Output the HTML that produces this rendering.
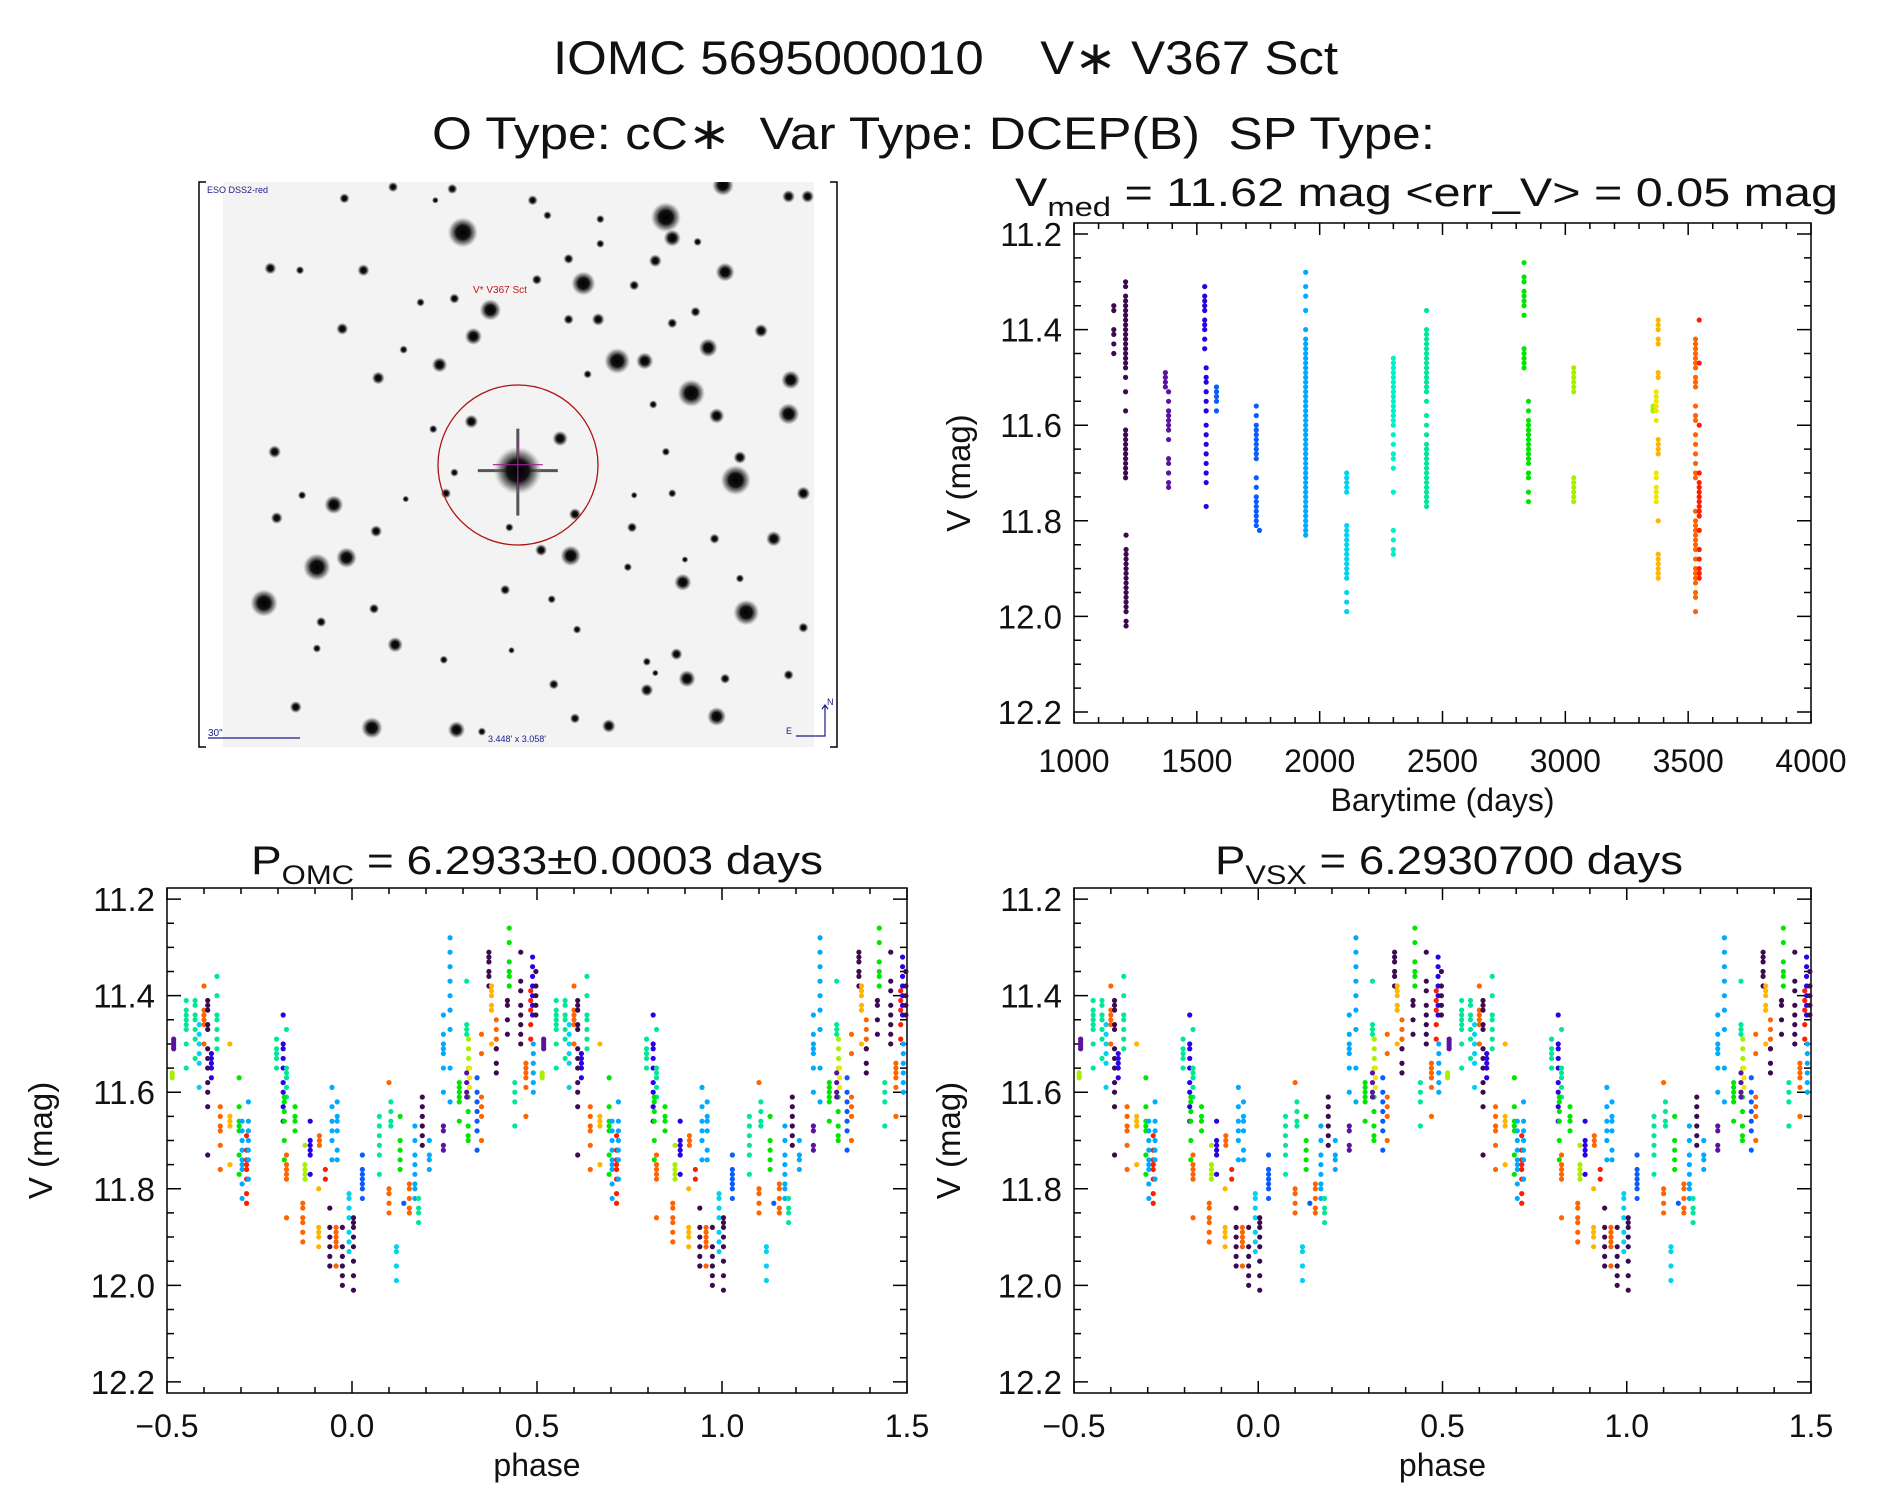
<!DOCTYPE html>
<html><head><meta charset="utf-8">
<style>
html,body{margin:0;padding:0;background:#fff;}
svg{display:block;font-family:"Liberation Sans","DejaVu Sans",sans-serif;}
</style></head>
<body>
<svg id="fig" width="1889" height="1494" viewBox="0 0 1889 1494" xmlns="http://www.w3.org/2000/svg">
<defs>
<radialGradient id="starg"><stop offset="0" stop-color="#000"/><stop offset="0.45" stop-color="#111"/><stop offset="0.75" stop-color="#555" stop-opacity="0.6"/><stop offset="1" stop-color="#999" stop-opacity="0"/></radialGradient>
<clipPath id="imgclip"><rect x="223" y="182" width="591" height="565"/></clipPath>
</defs>
<rect width="1889" height="1494" fill="#fff"/>
<text x="553" y="74" font-size="47" textLength="785" lengthAdjust="spacingAndGlyphs" fill="#111" xml:space="preserve">IOMC 5695000010    V∗ V367 Sct</text>
<text x="432" y="149" font-size="45" textLength="1003" lengthAdjust="spacingAndGlyphs" fill="#111" xml:space="preserve">O Type: cC∗  Var Type: DCEP(B)  SP Type:</text>
<text x="1015" y="206" font-size="40" textLength="823" lengthAdjust="spacingAndGlyphs" fill="#111" xml:space="preserve">V<tspan font-size="27" dy="10">med</tspan><tspan dy="-10"> = 11.62 mag &lt;err_V&gt; = 0.05 mag</tspan></text>
<text x="251" y="874" font-size="40" textLength="572" lengthAdjust="spacingAndGlyphs" fill="#111" xml:space="preserve">P<tspan font-size="27" dy="10">OMC</tspan><tspan dy="-10"> = 6.2933±0.0003 days</tspan></text>
<text x="1215" y="874" font-size="40" textLength="468" lengthAdjust="spacingAndGlyphs" fill="#111" xml:space="preserve">P<tspan font-size="27" dy="10">VSX</tspan><tspan dy="-10"> = 6.2930700 days</tspan></text>
<g id="imgpanel"></g>
<g id="toppanel"></g>
<g id="phase1"></g>
<g id="phase2"></g>
</svg>
<script>
// ---------- data ----------
const palette = ["#3c0a50","#5a14a0","#2a00e6","#0a5cff","#00aaff","#00d2f0","#00e896","#00e600","#a6f000","#f0e600","#ffb400","#ff6400","#ff1e00","#00f0c8"];
const timeXTicks = [1000,1500,2000,2500,3000,3500,4000];
const magTicks = ["11.2","11.4","11.6","11.8","12.0","12.2"];
const phaseTicks = ["−0.5","0.0","0.5","1.0","1.5"];
const timeGroupT = [1162,1210,1212,1372,1385,1532,1538,1580,1742,1755,1943,2110,2300,2435,2832,2850,3034,3357,3370,3378,3530,3545];
const timeGroupColor = [0,0,0,1,1,2,2,3,3,3,4,5,13,6,7,7,8,8,9,10,11,12];
const timeGroupMags = [
 [11.35,11.36,11.40,11.41,11.43,11.45],
 [11.30,11.31,11.33,11.34,11.35,11.36,11.37,11.38,11.39,11.40,11.41,11.42,11.43,11.44,11.45,11.46,11.47,11.48,11.50,11.53,11.57,11.61,11.62,11.63,11.64,11.65,11.66,11.67,11.68,11.69,11.70,11.71],
 [11.83,11.86,11.87,11.88,11.89,11.90,11.91,11.92,11.93,11.94,11.95,11.96,11.97,11.98,11.99,12.01,12.02],
 [11.49,11.50,11.51,11.52],
 [11.53,11.55,11.57,11.58,11.59,11.60,11.61,11.63,11.67,11.68,11.70,11.72,11.73],
 [11.31,11.33,11.34,11.35,11.36,11.38,11.39,11.40,11.42,11.44],
 [11.48,11.50,11.51,11.53,11.55,11.57,11.60,11.62,11.64,11.66,11.68,11.70,11.72,11.77],
 [11.52,11.53,11.54,11.55,11.57],
 [11.56,11.58,11.60,11.61,11.62,11.63,11.64,11.65,11.66,11.67,11.71,11.73,11.75,11.76,11.77,11.78,11.79,11.80,11.81],
 [11.82],
 [11.28,11.31,11.33,11.36,11.40,11.42,11.43,11.44,11.45,11.46,11.47,11.48,11.49,11.50,11.51,11.52,11.53,11.54,11.55,11.56,11.57,11.58,11.59,11.60,11.61,11.62,11.63,11.64,11.65,11.66,11.67,11.68,11.69,11.70,11.71,11.72,11.73,11.74,11.75,11.76,11.77,11.78,11.79,11.80,11.81,11.82,11.83],
 [11.70,11.71,11.72,11.73,11.74,11.81,11.82,11.83,11.84,11.85,11.86,11.87,11.88,11.89,11.90,11.91,11.92,11.95,11.97,11.99],
 [11.46,11.47,11.48,11.49,11.50,11.51,11.52,11.53,11.54,11.55,11.56,11.57,11.58,11.59,11.60,11.62,11.64,11.66,11.67,11.69,11.74,11.82,11.84,11.86,11.87],
 [11.36,11.40,11.41,11.42,11.43,11.44,11.45,11.46,11.47,11.48,11.49,11.50,11.51,11.52,11.53,11.55,11.58,11.60,11.62,11.64,11.65,11.66,11.67,11.68,11.69,11.70,11.71,11.72,11.73,11.74,11.75,11.76,11.77],
 [11.26,11.29,11.30,11.32,11.33,11.34,11.35,11.37,11.44,11.45,11.46,11.47,11.48],
 [11.55,11.57,11.59,11.60,11.61,11.62,11.63,11.64,11.65,11.66,11.67,11.68,11.70,11.71,11.74,11.76],
 [11.48,11.49,11.50,11.51,11.52,11.53,11.71,11.72,11.73,11.74,11.75,11.76],
 [11.56,11.565,11.57],
 [11.53,11.54,11.55,11.56,11.57,11.59,11.70,11.71,11.73,11.74,11.75,11.76],
 [11.38,11.39,11.40,11.42,11.43,11.49,11.50,11.63,11.64,11.65,11.66,11.80,11.87,11.88,11.89,11.90,11.91,11.92],
 [11.42,11.43,11.44,11.45,11.46,11.47,11.48,11.50,11.51,11.52,11.56,11.58,11.59,11.62,11.64,11.66,11.68,11.70,11.71,11.78,11.80,11.81,11.82,11.83,11.84,11.85,11.86,11.88,11.90,11.91,11.92,11.93,11.95,11.96,11.99],
 [11.38,11.47,11.60,11.70,11.72,11.73,11.74,11.75,11.76,11.77,11.78,11.79,11.82,11.86,11.88,11.90,11.91,11.92]
];
const phClusterPhase = [-0.482,-0.486,-0.448,-0.424,-0.413,-0.400,-0.390,-0.380,-0.365,-0.330,-0.356,-0.305,-0.297,-0.285,-0.280,-0.204,-0.186,-0.177,-0.183,-0.177,-0.154,-0.133,-0.127,-0.113,-0.088,-0.090,-0.072,-0.060,-0.054,-0.043,-0.040,-0.026,-0.008,0.004,0.028,0.074,0.100,0.105,0.120,0.130,0.140,0.155,0.170,0.180,0.190,0.209,0.247,0.247,0.265,0.290,0.310,0.315,0.318,0.314,0.310,0.338,0.350,0.370,0.377,0.390,0.390,0.425,0.420,0.440,0.456,0.470,0.488,0.483,0.490,0.497];
const phClusterColor = [1,8,6,6,5,11,0,2,6,10,11,7,4,12,4,6,2,6,7,11,7,11,8,2,11,10,12,0,4,11,4,0,5,0,3,6,11,6,5,7,3,11,4,6,0,4,1,4,4,7,6,8,9,7,1,3,11,0,10,11,0,7,0,6,0,11,2,12,4,0];
const phClusterMags = [
 [11.49,11.495,11.50,11.505,11.51],[11.56,11.565,11.57],
 [11.41,11.43,11.44,11.45,11.46,11.47,11.50,11.55],[11.41,11.42,11.44,11.45,11.47,11.49,11.53],
 [11.46,11.48,11.50,11.52,11.54,11.59],[11.38,11.43,11.44,11.45,11.46,11.50],
 [11.41,11.42,11.43,11.46,11.47,11.51,11.53,11.55,11.58,11.60,11.63,11.73],[11.52,11.53,11.54,11.55,11.57],
 [11.36,11.40,11.44,11.45,11.47,11.49,11.51],[11.50,11.65,11.66,11.67,11.75],
 [11.63,11.65,11.67,11.68,11.71,11.76],[11.57,11.63,11.66,11.67,11.68,11.73,11.77],
 [11.66,11.68,11.70,11.72,11.74,11.75,11.76,11.79,11.82],[11.69,11.72,11.74,11.75,11.76,11.78,11.81,11.83],
 [11.62,11.66,11.68,11.70,11.72,11.74,11.78],[11.49,11.51,11.52,11.53,11.55],
 [11.44,11.50,11.51,11.53,11.55,11.58,11.60,11.63,11.66],[11.47,11.55,11.56,11.57,11.59,11.61],
 [11.61,11.62,11.64,11.66,11.70,11.74],[11.73,11.75,11.76,11.77,11.78,11.86],
 [11.63,11.65,11.66,11.68],[11.83,11.84,11.86,11.87,11.89,11.91],
 [11.71,11.75,11.76,11.77,11.78],[11.66,11.70,11.71,11.72,11.73,11.77],
 [11.69,11.70,11.71],[11.80,11.88,11.89,11.90,11.92],
 [11.76,11.78],[11.84,11.88,11.90,11.92,11.94,11.96],
 [11.59,11.63,11.66,11.68,11.70,11.74],[11.88,11.89,11.90,11.91,11.92,11.96],
 [11.62,11.65,11.66,11.68,11.72,11.74],[11.88,11.92,11.94,11.96,11.98,12.00],
 [11.81,11.82,11.84,11.86,11.89,11.91,11.93],[11.86,11.87,11.88,11.90,11.92,11.95,11.98,12.01],
 [11.73,11.76,11.77,11.78,11.79,11.80,11.82],[11.65,11.67,11.69,11.71,11.73,11.77],
 [11.58,11.80,11.81,11.83,11.85],[11.62,11.64,11.66,11.67],
 [11.92,11.93,11.96,11.99],[11.65,11.70,11.72,11.74,11.76],
 [11.83],[11.79,11.80,11.82,11.84,11.85],
 [11.67,11.70,11.73,11.75,11.77,11.79,11.80,11.82],[11.82,11.84,11.85,11.87],
 [11.61,11.63,11.65,11.67,11.69,11.71],[11.70,11.73,11.74,11.76],
 [11.67,11.68,11.71,11.72],[11.44,11.48,11.50,11.51,11.52,11.55,11.60],
 [11.28,11.31,11.34,11.37,11.40,11.43,11.47,11.55,11.62],[11.58,11.59,11.60,11.61,11.62,11.66],
 [11.37,11.46,11.47,11.48],[11.49,11.51,11.53,11.55],
 [11.55,11.57,11.59],[11.61,11.64,11.67,11.69,11.70],
 [11.56,11.58,11.60,11.61],[11.57,11.60,11.62,11.64,11.66,11.68,11.72],
 [11.48,11.52,11.61,11.63,11.65,11.70],[11.31,11.32,11.33,11.35,11.36,11.38],
 [11.38,11.39,11.40,11.42,11.43,11.50],[11.45,11.47,11.49,11.51],
 [11.51,11.54,11.56],[11.26,11.29,11.33,11.35,11.36,11.38],
 [11.41,11.42,11.45,11.48],[11.58,11.60,11.62,11.67],
 [11.31,11.37,11.39,11.42,11.44,11.46,11.48,11.50],[11.54,11.55,11.56,11.57,11.59,11.65],
 [11.32,11.34,11.36,11.38,11.40,11.42,11.44],[11.39,11.41,11.43,11.46,11.49],
 [11.50,11.52,11.54,11.56,11.58,11.60],[11.35,11.38,11.40,11.42,11.44]
];
// sky image stars: [x, y, radius] in crop units
const starX = [645,1125,1140,1260,1415,1460,365,480,620,810,845,970,580,190,260,410,895,930,820,1100,1050,1265,970,1200,625,545,710,670,360,895,965,1140,1195,1350,1225,1010,1075,590,445,505,940,1185,1420,1415,1245,1095,665,875,575,200,1290,1300,1450,1125,1140,1050,340,205,265,510,625,605,910,755,440,900,830,1045,1240,1380,1165,1035,1170,1300,300,370,175,745,855,435,1315,1450,915,310,485,300,760,1150,1080,600,1175,1265,860,1080,1415,250,1245,430,630,910,990,690,1100];
const starY = [165,125,180,40,70,70,75,45,50,80,120,130,80,260,265,265,235,300,290,240,305,270,195,190,340,350,370,440,420,395,395,405,375,425,470,505,505,515,550,475,540,590,555,645,650,620,665,710,685,745,820,760,855,745,855,860,885,920,860,870,800,855,910,945,955,1020,1005,945,975,975,1090,1050,1030,1080,1050,1025,1145,1110,1135,1160,1170,1210,1215,1195,1255,1265,1270,1280,1300,1295,1345,1345,1360,1375,1335,1420,1445,1475,1480,1450,1470,1485,1330];
const starR = [35,35,20,25,15,15,12,12,12,12,10,10,8,14,10,14,12,28,12,15,12,22,10,10,12,10,25,20,14,12,15,12,12,16,22,30,20,18,15,10,10,32,22,25,18,10,16,18,10,15,35,15,16,10,10,8,22,14,10,8,10,12,14,10,14,24,14,12,12,18,20,10,8,10,32,24,32,12,10,12,30,12,10,12,18,10,8,14,10,10,20,12,12,15,12,14,22,25,20,12,16,10,8];

// ---------- helpers ----------
const NS = "http://www.w3.org/2000/svg";
function mk(tag, attrs, parent){ const e=document.createElementNS(NS,tag); for(const k in attrs) e.setAttribute(k,attrs[k]); if(parent) parent.appendChild(e); return e; }
const Y0=11.177, Y1=12.223;

function drawAxes(g, box, xmin, xmax, xMajor, xMinor, xLabels, xLabelVals, xTitle, yTitleX, xlabDy, xtitDy){
  const sx = v => box.x0 + (v-xmin)/(xmax-xmin)*(box.x1-box.x0);
  const sy = v => box.y0 + (v-Y0)/(Y1-Y0)*(box.y1-box.y0);
  const frame = mk("rect",{x:box.x0,y:box.y0,width:box.x1-box.x0,height:box.y1-box.y0,fill:"none",stroke:"#000","stroke-width":1.5},g);
  
  
  let d="";
  const nx = Math.round((xmax-xmin)/xMinor);
  for(let i=0;i<=nx;i++){ const v=xmin+i*xMinor; const x=sx(v); const maj=Math.abs((v-xmin)/xMajor-Math.round((v-xmin)/xMajor))<1e-6; const L=maj?12:6;
    d+=`M${x} ${box.y1}v${-L}M${x} ${box.y0}v${L}`; }
  for(let i=0;i<=20;i++){ const v=11.2+i*0.05; if(v>12.21) break; const y=sy(v); const maj=i%4==0; const L=maj?14:7;
    d+=`M${box.x0} ${y}h${L}M${box.x1} ${y}h${-L}`; }
  const ticks = mk("path",{d:d,stroke:"#000","stroke-width":1.5,fill:"none"},g);
  
  
  magTicks.forEach((lab)=>{ const t=mk("text",{x:box.x0-12,y:sy(parseFloat(lab))+12,"font-size":33,"text-anchor":"end",fill:"#111"},g); t.textContent=lab;
    
     });
  xLabels.forEach((lab,i)=>{ const t=mk("text",{x:sx(xLabelVals[i]),y:box.y1+xlabDy,"font-size":32,"text-anchor":"middle",fill:"#111"},g); t.textContent=lab;
    
     });
  const xt=mk("text",{x:(box.x0+box.x1)/2,y:box.y1+xtitDy,"font-size":32,"text-anchor":"middle",fill:"#111"},g); xt.textContent=xTitle;
  
  
  const cy=(box.y0+box.y1)/2;
  const yt=mk("text",{x:yTitleX,y:cy,"font-size":33,"text-anchor":"middle",fill:"#111",transform:`rotate(-90 ${yTitleX} ${cy})`},g); yt.textContent="V (mag)";
  
  
  return {sx,sy};
}

// ---------- top-right time plot ----------
(function(){
  const g=document.getElementById("toppanel");
  const box={x0:1074,x1:1811,y0:223,y1:723};
  const ax=drawAxes(g,box,1000,4000,500,100,timeXTicks.map(String),timeXTicks,"Barytime (days)",970,49,88);
  timeGroupT.forEach((t,i)=>{
    timeGroupMags[i].forEach(m=>{
      const c=mk("circle",{cx:ax.sx(t),cy:ax.sy(m),r:2.6,fill:palette[timeGroupColor[i]]},g);
      
      
    });
  });
})();

// ---------- phase plots ----------
function phasePlot(id, box, ytx){
  const g=document.getElementById(id);
  const ax=drawAxes(g,box,-0.5,1.5,0.5,0.1,phaseTicks,[-0.5,0,0.5,1,1.5],"phase",ytx,44,83);
  phClusterPhase.forEach((p,i)=>{
    [p,p+1].forEach(pp=>{
      if(pp<-0.5||pp>1.5) return;
      phClusterMags[i].forEach(m=>{
        const c=mk("circle",{cx:ax.sx(pp),cy:ax.sy(m),r:2.6,fill:palette[phClusterColor[i]]},g);
        
        
      });
    });
  });
}
phasePlot("phase1",{x0:167,x1:907,y0:888,y1:1393},52);
phasePlot("phase2",{x0:1074,x1:1811,y0:888,y1:1393},960);

// ---------- sky image ----------
(function(){
  const g=document.getElementById("imgpanel");
  const fx=d=>190+d/2.364, fy=d=>170+d/2.644;
  const bg=mk("rect",{x:223,y:182,width:591,height:565,fill:"#f3f3f3"},g);
  
  
  const sg=mk("g",{"clip-path":"url(#imgclip)"},g);
  starX.forEach((x,i)=>{
    const s=mk("circle",{cx:fx(x),cy:fy(starY[i]),r:starR[i]/2.3,fill:"url(#starg)"},sg);
    
    
  });
  const cx=fx(775), cy=fy(795);
  const sp=mk("path",{d:`M${cx-40} ${cy}H${cx+40}M${cx} ${cy-42}V${cy+45}`,stroke:"#555","stroke-width":3},sg);
  
  
  const ts=mk("circle",{cx:cx,cy:cy,r:24,fill:"url(#starg)"},sg);
  
  
  const cr=mk("path",{d:`M${cx-25} ${cy-6}H${cx+25}M${cx} ${cy-31}V${cy+19}`,stroke:"#a0209a","stroke-width":1.2},sg);
  
  
  const ring=mk("circle",{cx:518,cy:465,r:80,fill:"none",stroke:"#b01010","stroke-width":1.3},sg);
  
  
  const fr=mk("path",{d:"M206 182H199V747H206M830 182H837V747H830",stroke:"#000","stroke-width":1.5,fill:"none"},g);
  
  
  const l1=mk("text",{x:207,y:193,"font-size":9,fill:"#1a1a8a"},g); l1.textContent="ESO DSS2-red";
  
  
  const l2=mk("text",{x:473,y:293,"font-size":10,fill:"#c01818"},g); l2.textContent="V* V367 Sct";
  
  
  const sb=mk("path",{d:"M208 738H300",stroke:"#1a1a8a","stroke-width":1.2},g);
  
  
  const l3=mk("text",{x:208,y:736,"font-size":10,fill:"#1a1a8a"},g); l3.textContent='30"';
  
  
  const l4=mk("text",{x:488,y:742,"font-size":9,fill:"#1a1a8a"},g); l4.textContent="3.448' x 3.058'";
  
  
  const ar=mk("path",{d:"M796 736H825V705M822 709L825 705L828 709",stroke:"#1a1a8a","stroke-width":1.2,fill:"none"},g);
  
  
  const n=mk("text",{x:827,y:705,"font-size":9,fill:"#1a1a8a"},g); n.textContent="N";
  
  
  const e=mk("text",{x:786,y:734,"font-size":9,fill:"#1a1a8a"},g); e.textContent="E";
  
  
})();
</script>
</body></html>
